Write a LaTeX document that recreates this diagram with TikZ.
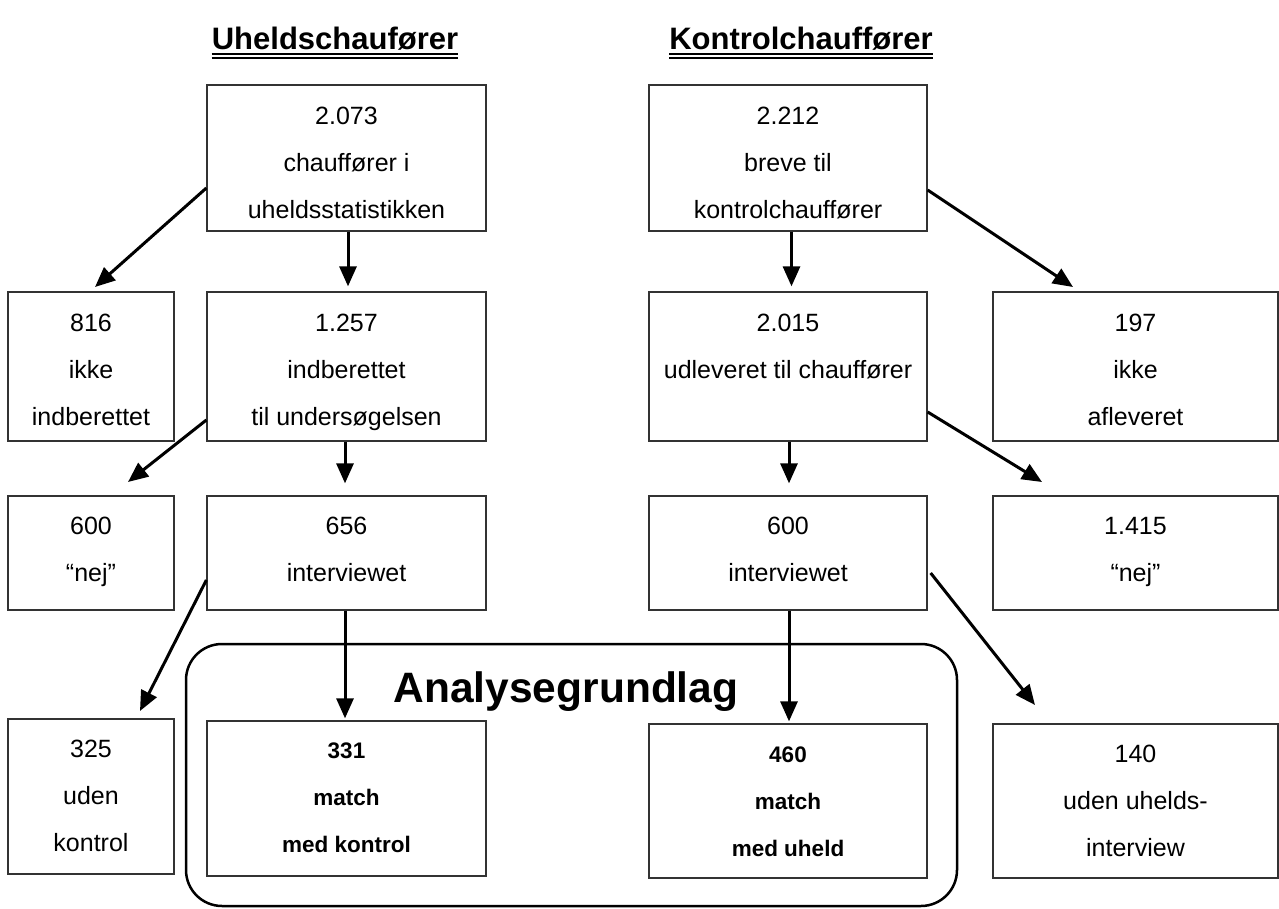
\documentclass[tikz,border=0pt]{standalone}
\usepackage{fontspec}
\setmainfont{Liberation Sans}
\usetikzlibrary{arrows.meta,calc}
\begin{document}
\begin{tikzpicture}[x=1pt,y=-1pt,
  box/.style={draw=black!80,line width=1.3pt,minimum width=#1,inner sep=0pt},
  txt/.style={align=center,inner sep=0pt,anchor=north,font={\fontsize{25}{47}\selectfont}},
  btxt/.style={align=center,inner sep=0pt,anchor=north,font={\fontsize{22.5}{47}\selectfont\bfseries}},
  arr/.style={line width=3pt,-{Triangle[length=20pt,width=17pt]}},
  ttl/.style={inner sep=0pt,anchor=base,font={\fontsize{31}{36}\selectfont\bfseries}},
  ul/.style={line width=2pt},
  grp/.style={draw,line width=2.5pt,rounded corners=36pt}]
\useasboundingbox (0,0) rectangle (1279,909);
% titles
\node[ttl] (h1) at (335,50) {Uheldschaufører};
\node[ttl] (h2) at (801,50) {Kontrolchauffører};
\draw[ul] ([yshift=-4pt]h1.base west) -- ([yshift=-4pt]h1.base east);
\draw[ul] ([yshift=-8.5pt]h1.base west) -- ([yshift=-8.5pt]h1.base east);
\draw[ul] ([yshift=-4pt]h2.base west) -- ([yshift=-4pt]h2.base east);
\draw[ul] ([yshift=-8.5pt]h2.base west) -- ([yshift=-8.5pt]h2.base east);
% group frame
\draw[grp] (186,644) rectangle (957,906);
\node[inner sep=0pt,anchor=base,font={\fontsize{42.5}{48}\selectfont\bfseries}] (ag) at (566,702) {Analysegrundlag};
% boxes
\node[box=279pt,minimum height=146pt] (A) at (346.5,158) {};
\node[box=278pt,minimum height=146pt] (B) at (788,158) {};
\node[box=166pt,minimum height=149pt] (n816) at (91,366.5) {};
\node[box=279pt,minimum height=149pt] (n1257) at (346.5,366.5) {};
\node[box=278pt,minimum height=149pt] (n2015) at (788,366.5) {};
\node[box=285pt,minimum height=149pt] (n197) at (1135.5,366.5) {};
\node[box=166pt,minimum height=114pt] (n600a) at (91,553) {};
\node[box=279pt,minimum height=114pt] (n656) at (346.5,553) {};
\node[box=278pt,minimum height=114pt] (n600b) at (788,553) {};
\node[box=285pt,minimum height=114pt] (n1415) at (1135.5,553) {};
\node[box=166pt,minimum height=155pt] (n325) at (91,796.5) {};
\node[box=279pt,minimum height=155pt] (n331) at (346.5,798.5) {};
\node[box=278pt,minimum height=154pt] (n460) at (788,801) {};
\node[box=285pt,minimum height=154pt] (n140) at (1135.5,801) {};
% texts
\node[txt] (tA) at ([yshift=-20pt]A.north) {\rule{0pt}{20pt}2.073\\chauffører i\\uheldsstatistikken};
\node[txt] (tB) at ([yshift=-20pt]B.north) {\rule{0pt}{20pt}2.212\\breve til\\kontrolchauffører};
\node[txt] (t816) at ([yshift=-20pt]n816.north) {\rule{0pt}{20pt}816\\ikke\\indberettet};
\node[txt] (t1257) at ([yshift=-20pt]n1257.north) {\rule{0pt}{20pt}1.257\\indberettet\\til undersøgelsen};
\node[txt] (t2015) at ([yshift=-20pt]n2015.north) {\rule{0pt}{20pt}2.015\\udleveret til chauffører};
\node[txt] (t197) at ([yshift=-20pt]n197.north) {\rule{0pt}{20pt}197\\ikke\\afleveret};
\node[txt] (t600a) at ([yshift=-19pt]n600a.north) {\rule{0pt}{20pt}600\\“nej”};
\node[txt] (t656) at ([yshift=-19pt]n656.north) {\rule{0pt}{20pt}656\\interviewet};
\node[txt] (t600b) at ([yshift=-19pt]n600b.north) {\rule{0pt}{20pt}600\\interviewet};
\node[txt] (t1415) at ([yshift=-19pt]n1415.north) {\rule{0pt}{20pt}1.415\\“nej”};
\node[txt] (t325) at ([yshift=-19pt]n325.north) {\rule{0pt}{20pt}325\\uden\\kontrol};
\node[btxt] (t331) at ([yshift=-18pt]n331.north) {\rule{0pt}{20pt}331\\match\\med kontrol};
\node[btxt] (t460) at ([yshift=-19pt]n460.north) {\rule{0pt}{20pt}460\\match\\med uheld};
\node[txt] (t140) at ([yshift=-19pt]n140.north) {\rule{0pt}{20pt}140\\uden uhelds-\\interview};
% arrow tips
\coordinate (e1) at (95,287);
\coordinate (e4) at (1073,287);
\coordinate (e5) at (128,482);
\coordinate (e8) at (1042,482);
\coordinate (e9) at (140,711);
\coordinate (e12) at (1035,705);
% arrows
\draw[arr] ([yshift=-30pt]A.west) -- (e1);
\draw[arr] ([xshift=1.5pt]A.south) -- ([xshift=1.5pt,yshift=5pt]n1257.north);
\draw[arr] ([xshift=3.5pt]B.south) -- ([xshift=3.5pt,yshift=5pt]n2015.north);
\draw[arr] ([yshift=-32pt]B.east) -- (e4);
\draw[arr] ([yshift=-53.5pt]n1257.west) -- (e5);
\draw[arr] ([xshift=-1.5pt]n1257.south) -- ([xshift=-1.5pt,yshift=12pt]n656.north);
\draw[arr] ([xshift=1pt]n2015.south) -- ([xshift=1pt,yshift=12pt]n600b.north);
\draw[arr] ([yshift=-45.5pt]n2015.east) -- (e8);
\draw[arr] ([yshift=-27pt]n656.west) -- (e9);
\draw[arr] ([xshift=-1.5pt]n656.south) -- ([xshift=-1.5pt,yshift=2pt]n331.north);
\draw[arr] ([xshift=1pt]n600b.south) -- ([xshift=1pt,yshift=2pt]n460.north);
\draw[arr] ([xshift=3pt,yshift=-20pt]n600b.east) -- (e12);
\end{tikzpicture}
\end{document}
